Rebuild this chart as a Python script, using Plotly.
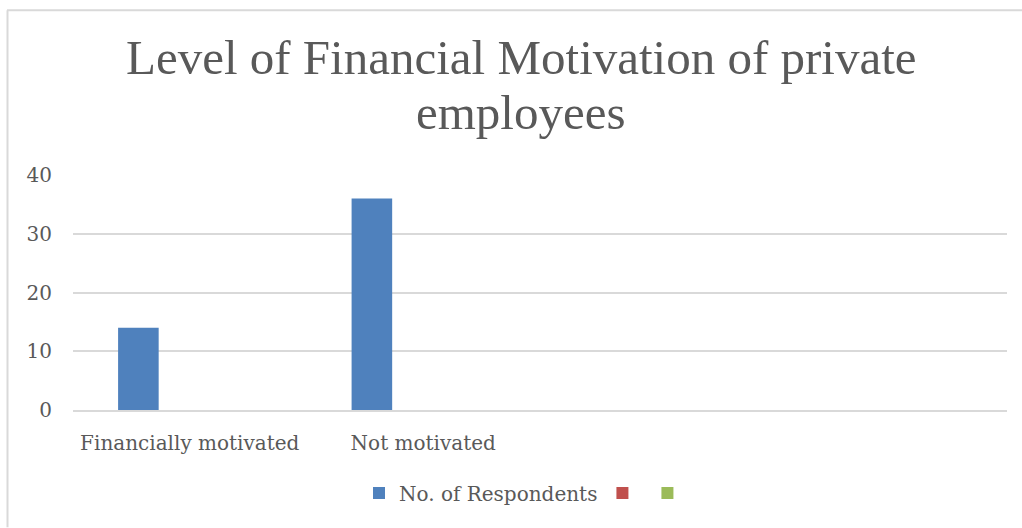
import plotly.graph_objects as go

# Survey data
categories = ["Financially motivated", "Not motivated"]
respondents = [14, 36]
series2 = [None, None]
series3 = [None, None]

title_lines = ["Level of Financial Motivation of private", "employees"]
text_color = "#595959"
grid_color = "#D9D9D9"

fig = go.Figure()
fig.add_trace(go.Bar(x=categories, y=respondents, name="No. of Respondents",
                     marker=dict(color="#4F81BD", line=dict(width=0))))
fig.add_trace(go.Bar(x=categories, y=series2, name="",
                     marker=dict(color="#C0504D", line=dict(width=0))))
fig.add_trace(go.Bar(x=categories, y=series3, name="",
                     marker=dict(color="#9BBB59", line=dict(width=0))))

W, H = 1022, 528
ml, mr, mt, mb = 73, 15, 175, 117.5
pw, ph = W - ml - mr, H - mt - mb


def px_x(x):
    return (x - ml) / pw


def px_y(y):
    return (H - mb - y) / ph


fig.update_layout(
    width=W, height=H,
    paper_bgcolor="white", plot_bgcolor="white",
    margin=dict(l=ml, r=mr, t=mt, b=mb),
    barmode="group", bargap=0.34, bargroupgap=0.21,
    font=dict(family="DejaVu Serif", size=20, color=text_color),
    showlegend=True,
    legend=dict(orientation="h", x=526 / W, xanchor="center", xref="container",
                y=1 - 493 / H, yref="container", yanchor="middle",
                font=dict(family="DejaVu Serif", size=20, color=text_color),
                itemwidth=30, tracegroupgap=0),
    xaxis=dict(range=[-0.5, 3.5], showgrid=False, showline=True,
               linecolor=grid_color, linewidth=1.5, ticks="",
               ticklabelstandoff=14,
               tickfont=dict(family="DejaVu Serif", size=20, color=text_color)),
    yaxis=dict(range=[0, 40], dtick=10, showgrid=True, gridcolor=grid_color,
               gridwidth=1.5, zeroline=False, showline=False, ticks="",
               ticklabelstandoff=20,
               tickfont=dict(family="DejaVu Serif", size=20, color=text_color)),
)

# Two-line chart title
for line, baseline in zip(title_lines, [75, 130]):
    fig.add_annotation(text=line, xref="paper", yref="paper",
                       x=px_x(521), y=px_y(baseline + 12), xanchor="center",
                       yanchor="bottom", showarrow=False,
                       font=dict(family="Liberation Serif", size=49, color=text_color))

# Outer chart frame (left and top edges)
fig.add_shape(type="line", xref="paper", yref="paper",
              x0=px_x(7.5), x1=px_x(7.5), y0=px_y(H), y1=px_y(10),
              line=dict(color=grid_color, width=2))
fig.add_shape(type="line", xref="paper", yref="paper",
              x0=px_x(7), x1=px_x(W), y0=px_y(10), y1=px_y(10),
              line=dict(color=grid_color, width=2))

fig.write_html("out.html")
